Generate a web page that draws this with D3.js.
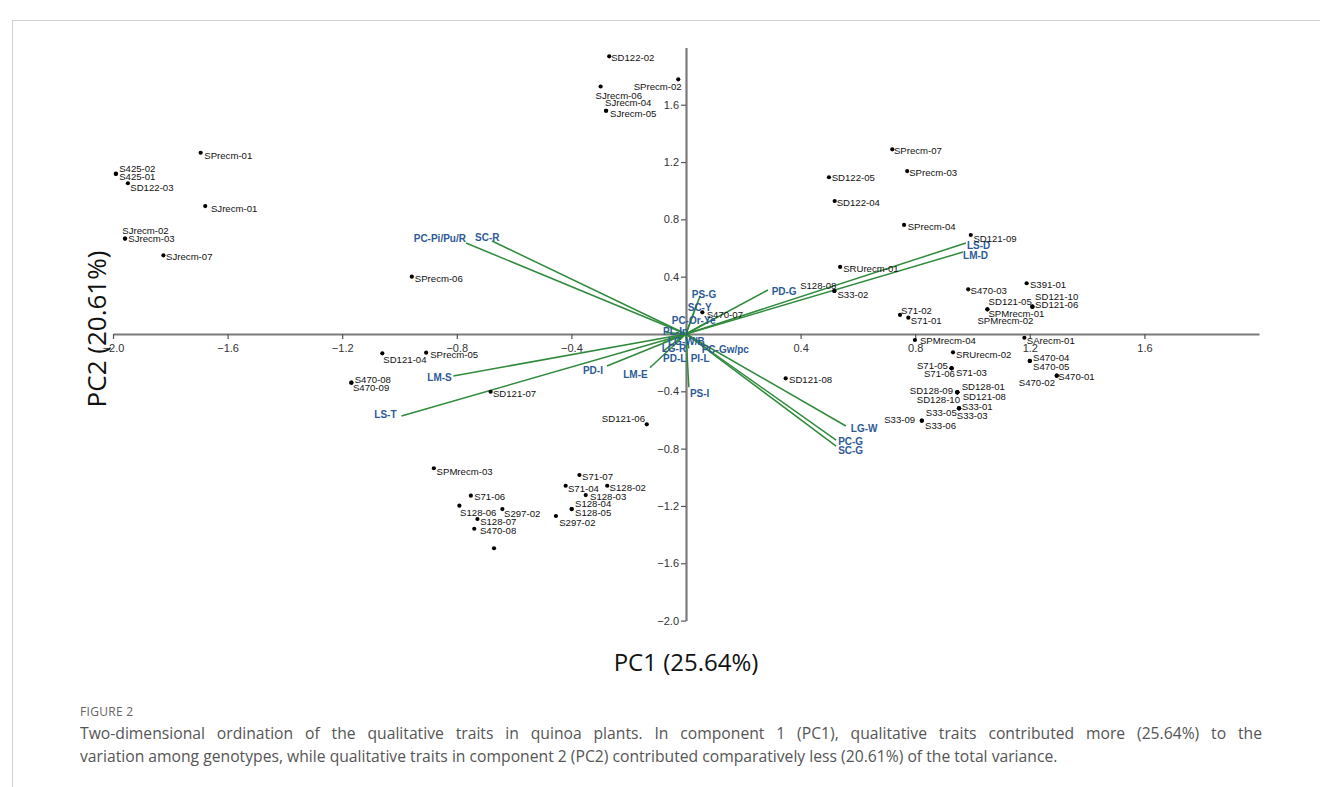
<!DOCTYPE html>
<html>
<head>
<meta charset="utf-8">
<script src="https://cdn.jsdelivr.net/npm/d3@7"></script>
<style>
  html, body { margin: 0; padding: 0; background: #fff; }
  svg { display: block; }
</style>
</head>
<body>
<svg id="chart" width="1320" height="787"></svg>
<script>
// ---------------- DATA ----------------
const genotypes = ["SPrecm-01","S425-02","S425-01","SD122-03","SJrecm-01","SJrecm-02","SJrecm-03","SJrecm-07","SPrecm-06",
  "SD122-02","SPrecm-02","SJrecm-06","SJrecm-04","SJrecm-05",
  "SPrecm-07","SPrecm-03","SD122-05","SD122-04","SPrecm-04","SD121-09",
  "SRUrecm-01","S128-08","S33-02","S470-03","S391-01","SD121-05","SD121-10","SD121-06","SPMrecm-01","SPMrecm-02",
  "S71-02","S71-01","SPMrecm-04","SArecm-01","SRUrecm-02","S470-04","S470-05","S470-01","S470-02",
  "S71-05","S71-06","S71-03","SD128-01","SD128-09","SD128-10","SD121-08","S33-01","S33-05","S33-03","S33-09","S33-06",
  "S470-07","SD121-08","SD121-04","SPrecm-05","S470-08","S470-09","SD121-07","SD121-06",
  "SPMrecm-03","S71-07","S71-04","S128-02","S128-03","S128-04","S128-05","S297-02","S71-06","S128-06","S297-02","S128-07","S470-08",""];
const pc1 = [-1.694,-1.990,-1.990,-1.948,-1.678,-1.958,-1.958,-1.824,-0.957,
  -0.268,-0.027,-0.298,-0.279,-0.279,
  0.720,0.772,0.499,0.519,0.761,0.994,
  0.538,0.518,0.518,0.985,1.189,1.209,1.209,1.209,1.052,1.052,
  0.747,0.776,0.799,1.181,0.932,1.200,1.200,1.294,1.294,
  0.927,0.927,0.927,0.947,0.947,0.947,0.947,0.953,0.953,0.953,0.823,0.823,
  0.057,0.348,-1.060,-0.907,-1.168,-1.168,-0.682,-0.137,
  -0.880,-0.372,-0.420,-0.275,-0.350,-0.399,-0.399,-0.454,-0.751,-0.791,-0.641,-0.728,-0.739,-0.670];
const pc2 = [1.265,1.119,1.117,1.052,0.893,0.666,0.666,0.549,0.400,
  1.938,1.777,1.727,1.558,1.558,
  1.289,1.137,1.094,0.928,0.761,0.691,
  0.468,0.300,0.300,0.312,0.354,0.191,0.191,0.191,0.172,0.172,
  0.133,0.114,-0.042,-0.026,-0.128,-0.188,-0.188,-0.291,-0.291,
  -0.239,-0.239,-0.239,-0.407,-0.407,-0.407,-0.407,-0.519,-0.519,-0.519,-0.605,-0.605,
  0.151,-0.309,-0.135,-0.130,-0.340,-0.340,-0.403,-0.630,
  -0.937,-0.984,-1.059,-1.059,-1.124,-1.222,-1.222,-1.270,-1.128,-1.198,-1.222,-1.291,-1.359,-1.495];

const traits = ["PC-Pi/Pu/R","SC-R","LS-D","LM-D","PD-G","PS-G","SC-Y","PC-Or-Ye","PL-In","LG-W/B","LG-R","PD-L","PI-L","PC-Gw/pc","PS-I","LM-E","PD-I","LM-S","LS-T","LG-W","PC-G","SC-G"];
const loadPC1 = [-0.768,-0.677,0.977,0.967,0.286,0.049,0.035,0.080,-0.070,-0.030,-0.080,-0.080,0.010,0.060,0.010,-0.126,-0.276,-0.812,-0.993,0.558,0.524,0.524];
const loadPC2 = [0.635,0.649,0.635,0.572,0.307,0.265,0.195,0.090,0.010,-0.040,-0.060,-0.120,-0.100,-0.070,-0.372,-0.236,-0.223,-0.293,-0.572,-0.642,-0.740,-0.782];

const xTicks = [-2.0,-1.6,-1.2,-0.8,-0.4,0.4,0.8,1.2,1.6];
const yTicks = [1.6,1.2,0.8,0.4,-0.4,-0.8,-1.2,-1.6,-2.0];

const xTitle = "PC1 (25.64%)";
const yTitle = "PC2 (20.61%)";
const figLabel = "FIGURE 2";
const captionLines = [
  "Two-dimensional ordination of the qualitative traits in quinoa plants. In component 1 (PC1), qualitative traits contributed more (25.64%) to the",
  "variation among genotypes, while qualitative traits in component 2 (PC2) contributed comparatively less (20.61%) of the total variance."
];

// ---------------- LAYOUT (label offsets in px: [dx, dy, anchor]) ----------------
const ptLabelLayout = [[3.6,5.8,"start"],[3.3,-1.9,"start"],[3.3,6.5,"start"],[2.4,7.5,"start"],[5.7,5.8,"start"],[-2.7,-5,"start"],[3.3,3.5,"start"],[2.7,4.9,"start"],[3,5.5,"start"],
  [2,5,"start"],[3.4,10.2,"end"],[-5,12.2,"start"],[-1,-4.9,"start"],[4,6,"start"],
  [1.7,5.2,"start"],[2,4.8,"start"],[2.7,3.5,"start"],[2,4.8,"start"],[3.7,5.2,"start"],[2.6,7.5,"start"],
  [3,5.5,"start"],[2,-2.5,"end"],[3,6.8,"start"],[2.4,4.9,"start"],[3.3,5.2,"start"],[-0.6,-1.5,"end"],[2.7,-6.5,"start"],[2.7,1.1,"start"],[1,7.5,"start"],[-10,14.9,"start"],
  [1,-0.5,"start"],[2.4,6.5,"start"],[5,4.2,"start"],[2.4,5.8,"start"],[3,5.5,"start"],[3.3,-0.2,"start"],[3.3,9.2,"start"],[1.6,4.5,"start"],[-1.7,10.5,"end"],
  [-3.7,0.9,"end"],[3.3,9.2,"end"],[4.3,7.5,"start"],[4.4,-2.1,"start"],[-4.3,1.2,"end"],[2.7,10.5,"end"],[5.4,7.9,"start"],[2.7,1.2,"start"],[-2.3,7.9,"end"],[-2.3,10.9,"start"],[-6.7,2.8,"end"],[3.3,8.8,"start"],
  [4.4,5.2,"start"],[3.3,4.9,"start"],[1,9.5,"start"],[4,5.5,"start"],[3.3,0.1,"start"],[1.6,8.1,"start"],[2.3,5,"start"],[-1.7,-2.5,"end"],
  [2.7,6.5,"start"],[2.7,4.5,"start"],[2.3,5.8,"start"],[2.4,4.8,"start"],[4.3,4.5,"start"],[3.3,-1.8,"start"],[3.3,6.5,"start"],[3.3,9.8,"start"],[3.3,4.8,"start"],[0.7,10.1,"start"],[1.7,7.5,"start"],[2.7,5.9,"start"],[5.7,5.5,"start"],[0,0,"start"]];

const vecLabelLayout = [[0,-1.5,"end"],[-17,0.5,"start"],[1,5.5,"start"],[0,6.5,"start"],[3.7,4.5,"start"],[-8.3,1.5,"start"],[-8.3,4.8,"start"],[-37.2,3.1,"start"],[-2.9,2.6,"start"],[-9.4,4.8,"start"],[-1.4,9.2,"start"],[0,10.6,"start"],[1.8,13.5,"start"],[-1.5,8.5,"start"],[1.1,9.5,"start"],[-26.7,10,"start"],[-4,8.2,"end"],[-1.6,5.2,"end"],[-5,2.5,"end"],[5,6.5,"start"],[2,4.5,"start"],[2,7.5,"start"]];

// ---------------- DRAW ----------------
const svg = d3.select("#chart");

// figure frame
svg.append("line").attr("x1",12).attr("x2",1320).attr("y1",20.5).attr("y2",20.5).attr("stroke","#d0d0d0").attr("stroke-width",1);
svg.append("line").attr("x1",12.5).attr("x2",12.5).attr("y1",20).attr("y2",787).attr("stroke","#d0d0d0").attr("stroke-width",1);

const x = d3.scaleLinear().domain([-2, 2]).range([113, 1259]);
const y = d3.scaleLinear().domain([-2, 2]).range([620.6, 47.4]);

const axisColor = "#7a7a7a";
const gx = svg.append("g").attr("transform", `translate(0,${y(0)})`)
  .call(d3.axisBottom(x).tickValues(xTicks).tickSize(5).tickSizeOuter(0).tickFormat(d3.format(".1f")));
const gy = svg.append("g").attr("transform", `translate(${x(0)},0)`)
  .call(d3.axisLeft(y).tickValues(yTicks).tickSize(5).tickSizeOuter(0).tickFormat(d3.format(".1f")));
[gx, gy].forEach(g => {
  g.select(".domain").attr("stroke", axisColor).attr("stroke-width", 2.2);
  g.selectAll(".tick line").attr("stroke", "#555").attr("stroke-width", 1.2);
  g.selectAll(".tick text").attr("fill", "#333").style("font-family", "'Liberation Sans', Arial, sans-serif").style("font-size", "11px");
});
gx.selectAll(".tick text").attr("dy", "0.9em");
gy.selectAll(".tick text").attr("x", -7);

// vectors
const vecColor = "#2f8a3c";
const vecs = traits.map((t, i) => ({ t, a: loadPC1[i], b: loadPC2[i], L: vecLabelLayout[i] }));
svg.append("g").selectAll("line").data(vecs).join("line")
  .attr("x1", x(0)).attr("y1", y(0))
  .attr("x2", d => x(d.a)).attr("y2", d => y(d.b))
  .attr("stroke", vecColor).attr("stroke-width", 1.5);
svg.append("g").selectAll("text").data(vecs).join("text")
  .attr("x", d => x(d.a) + d.L[0]).attr("y", d => y(d.b) + d.L[1])
  .attr("text-anchor", d => d.L[2])
  .attr("fill", "#2d5a96")
  .style("font-family", "'Liberation Sans', Arial, sans-serif")
  .style("font-size", "10px").style("font-weight", "bold")
  .text(d => d.t);

// points
const pts = genotypes.map((g, i) => ({ g, a: pc1[i], b: pc2[i], L: ptLabelLayout[i] }));
svg.append("g").selectAll("circle").data(pts).join("circle")
  .attr("cx", d => x(d.a)).attr("cy", d => y(d.b)).attr("r", 2.1).attr("fill", "#000");
svg.append("g").selectAll("text").data(pts).join("text")
  .attr("x", d => x(d.a) + d.L[0]).attr("y", d => y(d.b) + d.L[1])
  .attr("text-anchor", d => d.L[2])
  .attr("fill", "#111")
  .style("font-family", "'Liberation Sans', Arial, sans-serif")
  .style("font-size", "9.6px")
  .text(d => d.g);

// axis titles
svg.append("text").attr("x", x(0)).attr("y", 671).attr("text-anchor", "middle")
  .style("font-family", "'Open Sans', sans-serif").style("font-size", "24px").attr("fill", "#111").text(xTitle);
svg.append("text").attr("transform", `translate(106,${y(0) - 5}) rotate(-90)`).attr("text-anchor", "middle")
  .style("font-family", "'Open Sans', sans-serif").style("font-size", "26px").attr("fill", "#111").text(yTitle);

// caption
svg.append("text").attr("x", 80).attr("y", 716)
  .style("font-family", "'Open Sans', sans-serif").style("font-size", "12px").attr("fill", "#666").style("letter-spacing", "0.3px").text(figLabel);
const capWidth = 1182;
svg.append("g").selectAll("text").data(captionLines).join("text")
  .attr("x", 80).attr("y", (d, i) => 739 + i * 23)
  .style("font-family", "'Open Sans', sans-serif").style("font-size", "15.7px").attr("fill", "#555")
  .text(d => d)
  .each(function(d, i) {
    if (i < captionLines.length - 1) {
      const len = this.getComputedTextLength();
      const spaces = (d.match(/ /g) || []).length;
      if (spaces > 0 && len < capWidth) d3.select(this).style("word-spacing", ((capWidth - len) / spaces) + "px");
    }
  });
</script>
</body>
</html>
